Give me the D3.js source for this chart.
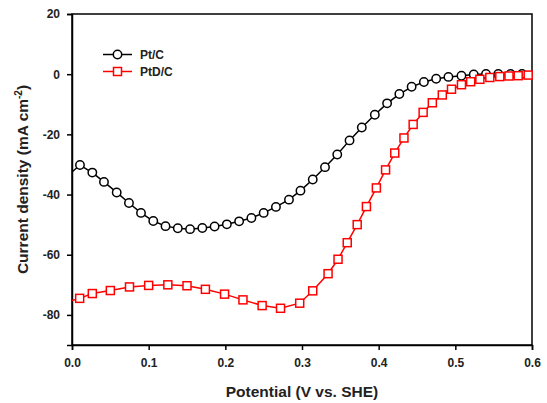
<!DOCTYPE html>
<html>
<head>
<meta charset="utf-8">
<script src="https://cdn.jsdelivr.net/npm/d3@7"></script>
<style>
  body { margin: 0; background: #fff; }
  svg text { font-family: "Liberation Sans", Arial, sans-serif; font-weight: bold; }
</style>
</head>
<body>
<div id="chart"></div>
<script>
// potential (V vs. SHE) and current density (mA cm-2)
var ptcV = [0.0, 0.0104, 0.0265, 0.0417, 0.0583, 0.0743, 0.090, 0.106, 0.122, 0.138, 0.154, 0.170, 0.186, 0.202, 0.218, 0.234, 0.250, 0.266, 0.283, 0.298, 0.314, 0.330, 0.346, 0.362, 0.378, 0.395, 0.411, 0.427, 0.443, 0.459, 0.475, 0.491, 0.508, 0.524, 0.540, 0.556, 0.572, 0.587];
var ptcI = [-32.5, -30.2, -32.7, -35.8, -39.3, -42.8, -46.1, -48.8, -50.5, -51.2, -51.5, -51.1, -50.6, -49.9, -48.9, -47.8, -46.1, -44.1, -41.7, -38.7, -35.0, -30.9, -26.7, -22.0, -17.7, -13.5, -9.7, -6.6, -4.2, -2.6, -1.5, -0.9, -0.5, -0.1, 0.1, 0.1, 0.1, 0.1];
var ptdV = [0.0, 0.010, 0.0265, 0.050, 0.075, 0.100, 0.125, 0.150, 0.174, 0.199, 0.223, 0.248, 0.272, 0.297, 0.314, 0.334, 0.347, 0.359, 0.372, 0.384, 0.397, 0.409, 0.421, 0.433, 0.445, 0.458, 0.470, 0.483, 0.495, 0.508, 0.520, 0.532, 0.545, 0.558, 0.570, 0.582, 0.595];
var ptdI = [-75.2, -74.5, -72.9, -71.9, -70.7, -70.2, -70.0, -70.3, -71.5, -73.1, -75.0, -76.9, -77.8, -76.1, -72.0, -66.3, -61.5, -56.0, -50.0, -44.0, -37.8, -31.8, -26.2, -21.2, -16.7, -12.7, -9.5, -6.9, -5.0, -3.5, -2.5, -1.7, -1.1, -0.8, -0.6, -0.5, -0.3];
var xTicks = [0.0, 0.1, 0.2, 0.3, 0.4, 0.5, 0.6];
var yTicks = [20, 0, -20, -40, -60, -80];
var seriesNames = ["Pt/C", "PtD/C"];

var width = 547, height = 403;
var margin = {left: 72, right: 15, top: 14, bottom: 58};

var svg = d3.select('#chart').append('svg')
  .attr('width', width)
  .attr('height', height);

var x = d3.scaleLinear().domain([0, 0.6]).range([margin.left, width - margin.right]);
var y = d3.scaleLinear().domain([-90, 20]).range([height - margin.bottom, margin.top]);

// frame
svg.append('rect')
  .attr('x', x(0)).attr('y', y(20))
  .attr('width', x(0.6) - x(0)).attr('height', y(-90) - y(20))
  .attr('fill', 'none').attr('stroke', '#000').attr('stroke-width', 1.5);

var xAxis = svg.append('g')
  .attr('transform', 'translate(0,' + y(-90) + ')')
  .call(d3.axisBottom(x).tickValues(xTicks).tickFormat(d3.format('.1f')).tickSize(5).tickPadding(8));
var yAxis = svg.append('g')
  .attr('transform', 'translate(' + x(0) + ',0)')
  .call(d3.axisLeft(y).tickValues(yTicks).tickFormat(function(d){ return d < 0 ? '-' + Math.abs(d) : d; }).tickSize(5).tickPadding(7));

[xAxis, yAxis].forEach(function(a){
  a.select('.domain').attr('stroke-width', 1.5);
  a.selectAll('.tick line').attr('stroke-width', 1.5);
  a.selectAll('.tick text').attr('font-size', 12).attr('fill', '#222');
});

function makeData(vs, is) {
  return vs.map(function(v, i){ return {v: v, i: is[i]}; });
}
var ptc = makeData(ptcV, ptcI);
var ptd = makeData(ptdV, ptdI);

var line = d3.line().x(function(d){ return x(d.v) }).y(function(d){ return y(d.i) });

svg.append('path').datum(ptc)
  .attr('d', line).attr('fill', 'none').attr('stroke', '#000').attr('stroke-width', 1.5);
svg.append('path').datum(ptd)
  .attr('d', line).attr('fill', 'none').attr('stroke', '#ff0000').attr('stroke-width', 1.5);

// markers (no marker at the first point, which sits on the axis)
svg.selectAll('.ptc')
  .data(ptc.filter(function(d){ return d.v > 0 })).enter()
  .append('circle')
  .attr('class', 'ptc')
  .attr('cx', function(d){ return x(d.v) })
  .attr('cy', function(d){ return y(d.i) })
  .attr('r', 4.2)
  .attr('fill', '#fff').attr('stroke', '#000').attr('stroke-width', 1.5);

svg.selectAll('.ptd')
  .data(ptd.filter(function(d){ return d.v > 0 })).enter()
  .append('rect')
  .attr('class', 'ptd')
  .attr('x', function(d){ return x(d.v) - 4 })
  .attr('y', function(d){ return y(d.i) - 4 })
  .attr('width', 8).attr('height', 8)
  .attr('fill', '#fff').attr('stroke', '#ff0000').attr('stroke-width', 1.5);

// legend
var legend = svg.append('g');
seriesNames.forEach(function(name, k){
  var ly = 54.5 + k * 17;
  var col = k === 0 ? '#000' : '#ff0000';
  legend.append('line')
    .attr('x1', 103).attr('x2', 132).attr('y1', ly).attr('y2', ly)
    .attr('stroke', col).attr('stroke-width', 1.5);
  if (k === 0) {
    legend.append('circle').attr('cx', 117.5).attr('cy', ly).attr('r', 4.2)
      .attr('fill', '#fff').attr('stroke', col).attr('stroke-width', 1.5);
  } else {
    legend.append('rect').attr('x', 113.5).attr('y', ly - 4).attr('width', 8).attr('height', 8)
      .attr('fill', '#fff').attr('stroke', col).attr('stroke-width', 1.5);
  }
  legend.append('text')
    .attr('x', 140).attr('y', ly + 4.5)
    .attr('font-size', 12).attr('fill', '#222')
    .text(name);
});

// axis titles
svg.append('text')
  .attr('x', (x(0) + x(0.6)) / 2).attr('y', 397)
  .attr('text-anchor', 'middle').attr('font-size', 15.5).attr('fill', '#222')
  .text('Potential (V vs. SHE)');

var yt = svg.append('text')
  .attr('transform', 'translate(28,' + ((y(20) + y(-90)) / 2) + ') rotate(-90)')
  .attr('text-anchor', 'middle').attr('font-size', 15.5).attr('fill', '#222');
yt.append('tspan').text('Current density (mA cm');
yt.append('tspan').attr('dy', -6).attr('font-size', 10).text('-2');
yt.append('tspan').attr('dy', 6).text(')');
</script>
</body>
</html>
